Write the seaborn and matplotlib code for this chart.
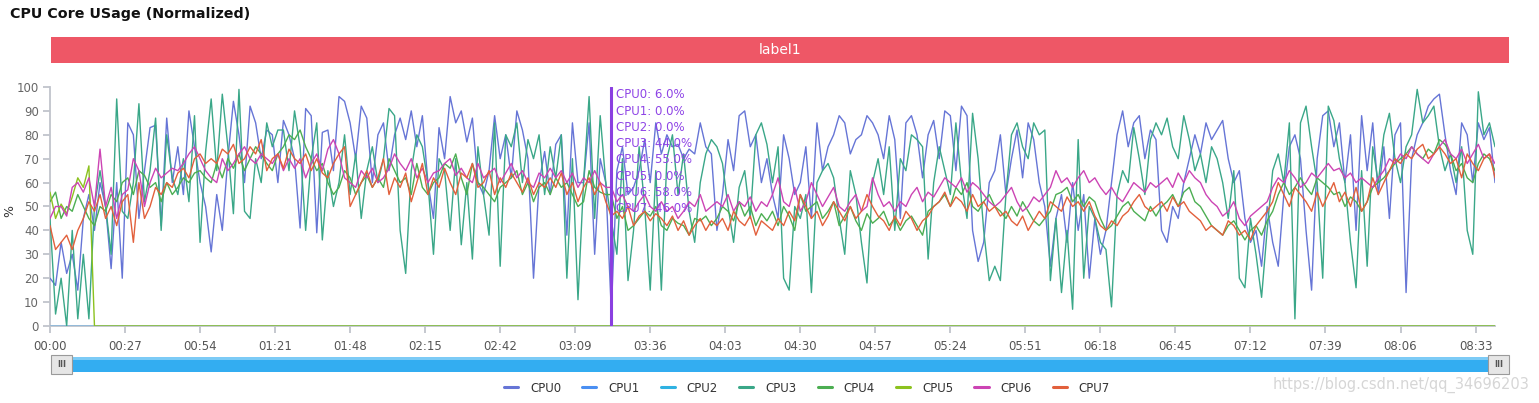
import pandas as pd
import matplotlib.pyplot as plt
from matplotlib.patches import Rectangle
from matplotlib.lines import Line2D
import seaborn as sns

# samples every 2 s, 00:00 .. 08:40
times = list(range(0, 521, 2))

cpu0 = [20, 17, 35, 22, 30, 15, 45, 55, 40, 60,
        50, 24, 60, 20, 85, 80, 45, 65, 83, 84,
        42, 87, 60, 75, 55, 90, 75, 60, 50, 31,
        55, 40, 70, 94, 80, 60, 92, 85, 70, 82,
        80, 60, 86, 80, 70, 41, 91, 88, 39, 81,
        82, 65, 96, 94, 85, 70, 92, 87, 60, 80,
        85, 65, 80, 87, 78, 90, 75, 88, 60, 45,
        83, 70, 96, 85, 90, 77, 87, 60, 55, 65,
        88, 70, 80, 62, 90, 82, 70, 20, 60, 73,
        55, 76, 80, 38, 85, 60, 60, 85, 30, 70,
        60, 6, 65, 75, 55, 58, 65, 78, 60, 85,
        72, 80, 75, 76, 70, 74, 72, 85, 75, 72,
        40, 55, 78, 65, 88, 90, 75, 80, 60, 70,
        55, 45, 80, 70, 55, 60, 75, 45, 85, 65,
        75, 80, 88, 85, 72, 78, 80, 88, 85, 80,
        70, 88, 78, 45, 85, 88, 80, 62, 80, 86,
        70, 90, 88, 65, 92, 88, 40, 27, 35, 60,
        65, 80, 55, 70, 82, 62, 85, 78, 60, 50,
        25, 45, 55, 35, 60, 40, 55, 20, 45, 30,
        40, 60, 80, 90, 75, 85, 88, 70, 82, 78,
        40, 35, 50, 45, 60, 70, 80, 72, 85, 78,
        82, 86, 70, 60, 65, 45, 35, 40, 25, 50,
        35, 25, 55, 75, 80, 70, 40, 15, 70, 88,
        90, 75, 85, 60, 80, 40, 88, 65, 85, 55,
        75, 45, 80, 85, 14, 70, 80, 85, 92, 95,
        97, 80, 65, 55, 85, 80, 60, 85, 78, 83,
        60]

cpu1 = [0] * 261
cpu2 = [0] * 261

cpu3 = [45, 5, 20, 0, 40, 3, 30, 3, 50, 65,
        50, 30, 95, 48, 45, 60, 93, 52, 65, 87,
        40, 80, 62, 55, 70, 52, 88, 35, 73, 95,
        65, 97, 75, 47, 99, 48, 45, 70, 60, 85,
        75, 82, 82, 65, 90, 75, 40, 70, 85, 36,
        65, 50, 60, 80, 55, 72, 45, 65, 75, 60,
        70, 91, 88, 40, 22, 65, 80, 75, 60, 30,
        70, 65, 40, 70, 34, 60, 28, 75, 55, 38,
        85, 25, 80, 75, 85, 60, 78, 70, 80, 55,
        75, 62, 80, 20, 70, 11, 60, 96, 45, 88,
        60, 44, 30, 70, 19, 40, 75, 50, 15, 65,
        15, 70, 80, 55, 72, 48, 35, 60, 72, 78,
        75, 68, 50, 35, 58, 65, 45, 80, 85, 76,
        60, 75, 20, 15, 50, 45, 55, 14, 60, 65,
        68, 62, 45, 30, 65, 55, 35, 18, 60, 70,
        55, 75, 40, 70, 65, 80, 78, 75, 28, 60,
        75, 65, 55, 85, 60, 45, 89, 70, 40, 19,
        25, 19, 55, 80, 85, 75, 70, 85, 80, 82,
        19, 45, 14, 40, 7, 78, 20, 50, 45, 35,
        32, 8, 55, 65, 60, 83, 70, 55, 78, 85,
        80, 87, 75, 70, 88, 78, 65, 72, 60, 75,
        70, 60, 45, 65, 20, 16, 45, 30, 12, 40,
        65, 72, 60, 85, 3, 85, 92, 75, 60, 20,
        92, 86, 70, 60, 35, 16, 65, 25, 75, 60,
        80, 89, 70, 60, 75, 80, 99, 85, 88, 92,
        75, 65, 72, 60, 75, 40, 30, 98, 80, 85,
        75]

cpu4 = [52, 56, 45, 50, 48, 55, 50, 45, 42, 50,
        48, 55, 52, 60, 62, 55, 65, 63, 58, 60,
        52, 60, 55, 58, 62, 60, 64, 65, 62, 60,
        68, 62, 70, 66, 72, 65, 70, 75, 72, 68,
        65, 72, 75, 80, 78, 82, 75, 70, 65, 68,
        60, 55, 58, 65, 62, 55, 60, 63, 58, 62,
        58, 70, 65, 60, 62, 55, 68, 58, 55, 60,
        62, 68, 66, 72, 62, 55, 68, 60, 58, 55,
        52, 58, 60, 62, 65, 55, 60, 52, 58, 60,
        55, 62, 58, 60, 55, 50, 52, 65, 58, 56,
        55, 55, 45, 50, 40, 42, 45, 48, 46, 50,
        42, 40, 45, 43, 42, 38, 45, 44, 46, 42,
        45, 50, 48, 44, 52, 46, 50, 42, 47, 44,
        48, 42, 50, 46, 40, 55, 48, 50, 52, 45,
        48, 52, 42, 46, 50, 44, 40, 47, 43, 45,
        48, 42, 45, 40, 44, 46, 42, 38, 48, 50,
        52, 55, 50, 58, 55, 60, 50, 48, 52, 55,
        50, 48, 45, 50, 46, 52, 48, 44, 42, 45,
        48, 55, 56, 58, 52, 55, 50, 54, 52, 45,
        40, 42, 46, 50, 52, 48, 46, 44, 50, 46,
        50, 52, 55, 50, 56, 58, 52, 50, 46, 42,
        40, 38, 42, 44, 40, 36, 40, 42, 38, 44,
        48, 55, 60, 55, 58, 62, 58, 55, 62, 60,
        58, 55, 56, 50, 54, 52, 48, 52, 58, 60,
        62, 65, 68, 70, 72, 75, 72, 70, 74, 72,
        78, 76, 72, 65, 68, 62, 60, 68, 72, 70,
        65]

cpu5 = [56, 45, 51, 47, 54, 62, 58, 67] + [0] * 253

cpu6 = [45, 50, 50, 46, 58, 60, 56, 62, 50, 74,
        50, 58, 45, 55, 57, 70, 65, 50, 60, 66,
        62, 64, 66, 65, 68, 72, 75, 70, 65, 62,
        60, 70, 65, 68, 72, 75, 70, 68, 72, 70,
        68, 72, 65, 70, 66, 70, 62, 68, 72, 65,
        74, 78, 72, 62, 60, 58, 65, 62, 66, 60,
        62, 66, 72, 68, 65, 70, 62, 66, 60, 64,
        65, 68, 70, 63, 66, 62, 60, 68, 62, 64,
        66, 60, 64, 68, 62, 65, 60, 58, 64, 62,
        66, 62, 65, 60, 64, 58, 62, 60, 65, 60,
        58, 58, 52, 55, 50, 48, 52, 55, 50, 48,
        52, 48, 50, 45, 48, 52, 50, 55, 48, 50,
        52, 50, 55, 48, 52, 50, 54, 48, 52, 50,
        55, 62, 52, 50, 58, 48, 52, 60, 55, 50,
        54, 58, 50, 48, 52, 55, 48, 50, 62, 55,
        50, 52, 48, 52, 50, 55, 58, 52, 56, 54,
        58, 62, 60, 58, 62, 56, 60, 58, 55, 52,
        50, 52, 55, 58, 52, 48, 50, 54, 52, 55,
        58, 65, 60, 62, 58, 62, 65, 60, 62, 58,
        55, 58, 54, 52, 56, 60, 58, 56, 60, 58,
        60, 62, 58, 64, 60, 65, 62, 60, 55, 52,
        50, 46, 48, 52, 45, 42, 46, 48, 50, 52,
        58, 62, 60, 65, 62, 58, 60, 64, 62, 65,
        68, 65, 66, 62, 64, 60, 62, 60, 58, 62,
        65, 70, 68, 72, 70, 75, 72, 70, 68, 72,
        75, 78, 72, 70, 74, 68, 72, 76, 70, 72,
        68]

cpu7 = [42, 32, 35, 38, 32, 40, 45, 52, 48, 55,
        45, 50, 42, 52, 55, 35, 60, 45, 50, 58,
        55, 60, 58, 64, 66, 62, 70, 72, 68, 70,
        68, 74, 72, 76, 68, 70, 75, 72, 78, 65,
        70, 72, 66, 74, 70, 68, 72, 65, 70, 64,
        62, 68, 72, 75, 50, 55, 60, 65, 58, 62,
        70, 55, 62, 58, 64, 52, 60, 68, 55, 62,
        58, 66, 60, 55, 64, 62, 68, 58, 60, 65,
        55, 62, 58, 64, 60, 56, 62, 55, 60, 58,
        62, 58, 64, 55, 60, 52, 58, 62, 55, 60,
        52, 46, 48, 45, 50, 42, 46, 48, 44, 47,
        45, 42, 46, 40, 44, 38, 42, 45, 40, 44,
        42, 45, 40, 48, 44, 42, 46, 38, 44, 42,
        40, 45, 42, 48, 44, 55, 50, 45, 48, 42,
        46, 52, 48, 44, 50, 45, 48, 55, 50, 46,
        44, 40, 46, 42, 48, 45, 40, 44, 46, 50,
        52, 56, 50, 54, 52, 48, 55, 50, 52, 48,
        50, 46, 48, 44, 42, 46, 40, 44, 48, 45,
        52, 50, 48, 54, 50, 52, 48, 52, 46, 42,
        40, 44, 42, 46, 48, 52, 55, 50, 48, 50,
        52, 48, 54, 50, 52, 48, 46, 44, 40, 42,
        40, 38, 44, 42, 38, 40, 36, 42, 45, 48,
        52, 60, 55, 50, 58, 55, 52, 48, 56, 50,
        55, 60, 52, 56, 50, 58, 48, 52, 62, 55,
        60, 65, 70, 68, 72, 70, 74, 76, 70, 72,
        75, 72, 68, 70, 62, 72, 68, 65, 70, 72,
        62]

cpu_names = ['CPU0', 'CPU1', 'CPU2', 'CPU3', 'CPU4', 'CPU5', 'CPU6', 'CPU7']
colors = ['#6675d6', '#4a8ff2', '#2fb2e2', '#3aa788', '#4cae52', '#8cc21f', '#cc44b4', '#e2603c']

tick_secs = [0, 27, 54, 81, 108, 135, 162, 189, 216, 243,
             270, 297, 324, 351, 378, 405, 432, 459, 486, 513]
tick_labels = ['00:00', '00:27', '00:54', '01:21', '01:48', '02:15', '02:42',
               '03:09', '03:36', '04:03', '04:30', '04:57', '05:24', '05:51',
               '06:18', '06:45', '07:12', '07:39', '08:06', '08:33']

# tooltip / cursor
cursor_sec = 202
cursor_vals = ['6.0', '0.0', '0.0', '44.0', '55.0', '0.0', '58.0', '46.0']

series = [cpu0, cpu1, cpu2, cpu3, cpu4, cpu5, cpu6, cpu7]
for s in series:
    assert len(s) == len(times), len(s)

frames = []
for name, vals in zip(cpu_names, series):
    frames.append(pd.DataFrame({'time': times, 'usage': vals, 'cpu': name}))
df = pd.concat(frames, ignore_index=True)

sns.set_style('white')
plt.rcParams['font.family'] = ['DejaVu Sans']

W, H = 1539, 403
fig = plt.figure(figsize=(W / 100, H / 100), dpi=100)
ax = fig.add_axes([50 / W, 77 / H, 1445 / W, 239 / H])

sns.lineplot(data=df, x='time', y='usage', hue='cpu', palette=dict(zip(cpu_names, colors)),
             estimator=None, linewidth=1.0, legend=False, ax=ax)

ax.set_xlim(0, 520)
ax.set_ylim(0, 100)
ax.set_yticks(range(0, 101, 10))
ax.set_xticks(tick_secs)
ax.set_xticklabels(tick_labels)
ax.set_xlabel('')
ax.set_ylabel('')

for side in ['top', 'right']:
    ax.spines[side].set_visible(False)
for side in ['left', 'bottom']:
    ax.spines[side].set_color('#c0c4cc')
    ax.spines[side].set_linewidth(1.3)
    ax.spines[side].set_zorder(0.5)
ax.tick_params(axis='y', colors='#c0c4cc', labelcolor='#666666', labelsize=8.5,
               length=5, width=1.3, left=True, pad=3)
ax.tick_params(axis='x', colors='#c0c4cc', labelcolor='#555555', labelsize=8.5,
               length=5, width=1.3, bottom=True, pad=5)
ax.patch.set_alpha(0)

# y axis name
fig.text(10 / W, 1 - 211 / H, '%', fontsize=9, color='#333333', rotation=90,
         ha='center', va='center')

# cursor line + tooltip text
ax.axvline(cursor_sec, ymin=0, ymax=1, color='#8a3fe0', linewidth=2.2)
for i, (name, v) in enumerate(zip(cpu_names, cursor_vals)):
    fig.text(616 / W, 1 - (95 + i * 16.2) / H, f'{name}: {v}%', color='#8e44e6',
             fontsize=8.5, va='center', ha='left')

# title
fig.text(10 / W, 1 - 14 / H, 'CPU Core USage (Normalized)', fontsize=10.3, fontweight='bold',
         va='center', ha='left', color='#111111')

# red label bar
fig.patches.append(Rectangle((51 / W, 1 - 63 / H), 1458 / W, 26 / H, transform=fig.transFigure,
                             facecolor='#ee5766', edgecolor='none'))
fig.text(780 / W, 1 - 50 / H, 'label1', color='white', fontsize=10, ha='center', va='center')

# slider
fig.patches.append(Rectangle((51 / W, 1 - 372 / H), 1457 / W, 15 / H, transform=fig.transFigure,
                             facecolor='#33adf1', edgecolor='none'))
fig.patches.append(Rectangle((51 / W, 1 - 360 / H), 1457 / W, 3 / H, transform=fig.transFigure,
                             facecolor='#7ccbf6', edgecolor='none'))
for hx in [51, 1488]:
    fig.patches.append(Rectangle((hx / W, 1 - 374 / H), 21 / W, 19 / H, transform=fig.transFigure,
                                 facecolor='#e6e6e6', edgecolor='#9a9a9a', linewidth=0.8))
    fig.text((hx + 10.5) / W, 1 - 364.5 / H, 'III', fontsize=6, color='#555555',
             ha='center', va='center', fontweight='bold')

# legend
handles = [Line2D([0], [0], color=c, linewidth=2.2) for c in colors]
fig.legend(handles, cpu_names, loc='center', bbox_to_anchor=(807 / W, 15 / H), ncol=8,
           frameon=False, fontsize=8.5, handlelength=1.2, handletextpad=1.0,
           columnspacing=1.8, labelcolor='#333333')

# watermark
fig.text(1530 / W, 18 / H, 'https://blog.csdn.net/qq_34696203', color='#d6d6d6', fontsize=10.5,
         ha='right', va='center')

fig.savefig('out.png', dpi=100)
